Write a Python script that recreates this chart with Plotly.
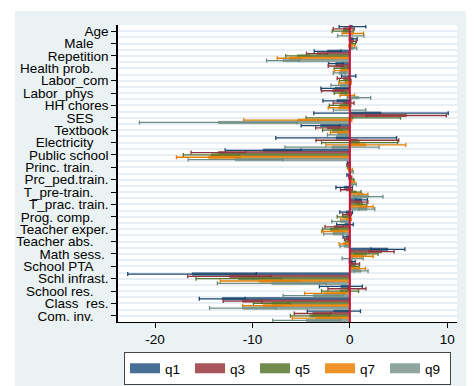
import plotly.graph_objects as go

NB = "\u00a0"
categories = ["Age", "Male", "Repetition", "Health prob.", "Labor_com", "Labor_phys",
              "HH chores", "SES", "Textbook", "Electricity", "Public school",
              "Princ. train.", "Prc_ped.train.", "T_pre-train.", "T_prac. train.",
              "Prog. comp.", "Teacher exper.", "Teacher abs.", "Math sess.",
              "School PTA", "Schl infrast.", "School res.", "Class" + NB + NB + "res.", "Com. inv."]
# trailing pad (in non-breaking spaces) seen in the reference labels
label_pad = [0, 4, 0, 4, 0, 4, 0, 4, 0, 4, 0, 4, 0, 4, 0, 4, 0, 4, 1, 4, 0, 4, 0, 4]

series = ["q1", "q3", "q5", "q7", "q9"]

q1_est = [0.27, 0.35, -2.29, -1.44, -0.12, -1.52, -1.33, 3.2, -3.0, -1.4, -8.9, -0.1,
          -0.15, -0.58, 1.2, -0.38, -0.5, -0.4, 3.9, 0.25, -16.2, -0.92, -13.1, -1.64]
q1_err = [1.37, 0.4, 1.37, 0.75, 0.73, 1.45, 1.43, 6.9, 2.0, 6.2, 3.9, 0.15,
          0.15, 0.85, 0.6, 0.65, 0.85, 0.3, 1.75, 0.3, 6.6, 2.2, 2.35, 2.73]

q3_est = [-0.63, 0.35, -3.37, -1.45, -0.65, -1.76, -0.64, 5.8, -2.3, 0.77, -13.5, -0.15,
          0.05, -0.35, 1.25, -0.3, -1.6, -0.35, 3.26, 0.6, -12.34, -0.3, -11.0, -3.8]
q3_err = [1.08, 0.33, 1.08, 0.77, 0.65, 1.15, 1.07, 4.1, 1.2, 4.25, 2.8, 0.15,
          0.15, 0.6, 0.6, 0.45, 0.95, 0.2, 1.28, 0.4, 4.3, 1.95, 2.0, 1.9]

q5_est = [-0.73, 0.3, -5.38, -0.87, -0.47, -1.0, -1.0, 0.35, -1.8, 1.0, -14.2, -0.1,
          0.2, 0.65, 1.3, -0.7, -2.0, -0.2, 1.7, 0.55, -11.4, -1.0, -8.0, -4.1]
q5_err = [1.08, 0.27, 1.2, 0.73, 0.6, 0.6, 1.1, 4.85, 1.0, 3.9, 2.9, 0.15,
          0.2, 0.5, 0.45, 0.6, 0.8, 0.25, 1.2, 0.4, 4.4, 1.9, 1.9, 2.0]

q7_est = [0.31, 0.2, -6.2, -1.0, -0.5, -0.27, -1.15, -5.35, -1.2, 1.64, -14.5, 0.05,
          0.3, 1.35, 1.75, -0.4, -1.75, -0.7, 1.32, 1.0, -9.3, -2.6, -8.9, -3.45]
q7_err = [1.1, 0.3, 1.25, 0.6, 0.63, 0.75, 1.07, 5.55, 0.8, 4.1, 3.3, 0.2,
          0.2, 0.5, 0.65, 0.55, 1.15, 0.4, 1.08, 0.6, 4.0, 2.05, 2.1, 2.45]

q9_est = [0.09, 0.4, -6.87, -1.1, -0.97, 0.94, -0.03, -13.5, -1.3, -1.83, -11.75, 0.15,
          0.35, 1.9, 1.76, -0.95, -1.7, -0.55, 0.29, 1.15, -8.0, -3.75, -11.0, -4.46]
q9_err = [1.35, 0.3, 1.68, 0.6, 0.97, 1.2, 1.67, 8.1, 1.0, 4.83, 4.85, 0.2,
          0.3, 1.5, 0.8, 0.9, 1.0, 0.45, 1.08, 0.72, 5.6, 3.1, 3.4, 3.46]

x_ticks = [-20, -10, 0, 10]

line_colors = ["#1a476f", "#90353b", "#55752f", "#e37e00", "#6e8e84"]
fill_colors = ["#476f94", "#a8545a", "#718c4c", "#ee9229", "#8fa59e"]

est = [q1_est, q3_est, q5_est, q7_est, q9_est]
err = [q1_err, q3_err, q5_err, q7_err, q9_err]

FONT = "Liberation Sans, Arial, sans-serif"
ypos = list(range(len(categories)))
ticktext = [c + NB * p for c, p in zip(categories, label_pad)]

fig = go.Figure()
for name, e, r, lc, fc in zip(series, est, err, line_colors, fill_colors):
    fig.add_trace(go.Bar(
        y=ypos, x=e, orientation="h", name=name, showlegend=False,
        marker=dict(color=fc, line=dict(color=lc, width=0.6)),
        error_x=dict(type="data", array=r, color=lc, thickness=1.3, width=2),
    ))
for name, fc in zip(series, fill_colors):
    fig.add_trace(go.Scatter(x=[None], y=[None], mode="lines", name=name,
                             line=dict(color=fc, width=13)))

# page body adds an 8px offset, so the figure is 8px smaller each way
W, H = 466, 378
L, R, T, B = 110, 17, 17, 64
pw, ph = W - L - R, H - T - B

fig.update_layout(
    width=W, height=H,
    margin=dict(l=L, r=R, t=T, b=B, autoexpand=False),
    paper_bgcolor="white", plot_bgcolor="white",
    barmode="group", bargap=0.06, bargroupgap=0,
    font=dict(family=FONT, size=13.5, color="black"),
    shapes=[
        dict(type="rect", xref="paper", yref="paper", layer="below",
             x0=(7 - L) / pw, x1=(W + 5 - L) / pw, y0=-(H + 5 - T - ph) / ph, y1=(T + ph - 3) / ph,
             fillcolor="#eaf2f3", line=dict(width=0)),
        dict(type="rect", xref="paper", yref="paper", layer="below",
             x0=0, x1=1, y0=0, y1=1, fillcolor="white", line=dict(width=0)),
        dict(type="line", xref="x", yref="paper", layer="above",
             x0=0, x1=0, y0=0, y1=1, line=dict(color="#d0103a", width=2)),
    ],
    xaxis=dict(range=[-23.8, 11], tickmode="array", tickvals=x_ticks,
               ticktext=[str(v) for v in x_ticks], ticks="outside", ticklen=5,
               tickcolor="black", showline=True, linecolor="black", linewidth=1.3,
               showgrid=False, zeroline=False, tickfont=dict(size=13.5),
               automargin=False),
    yaxis=dict(range=[len(categories) - 0.5, -0.5], tickmode="array", tickvals=ypos,
               ticktext=ticktext, ticks="outside", ticklen=5, tickcolor="black",
               showline=True, linecolor="black", linewidth=1.5,
               showgrid=True, gridcolor="#e8eff4", gridwidth=2, zeroline=False,
               minor=dict(tickmode="array", tickvals=[i + 0.5 for i in ypos] + [-0.5],
                          showgrid=True, gridcolor="#e8eff4", gridwidth=2, ticks=""),
               tickfont=dict(size=13.5), automargin=False),
    legend=dict(orientation="h", x=(116 - L) / pw, xanchor="left", y=-(344 - T - ph) / ph,
                yanchor="top", bgcolor="white", bordercolor="#444", borderwidth=1,
                font=dict(size=13.5), entrywidth=20, itemwidth=30,
                tracegroupgap=0),
)

fig.write_html("out.html")
